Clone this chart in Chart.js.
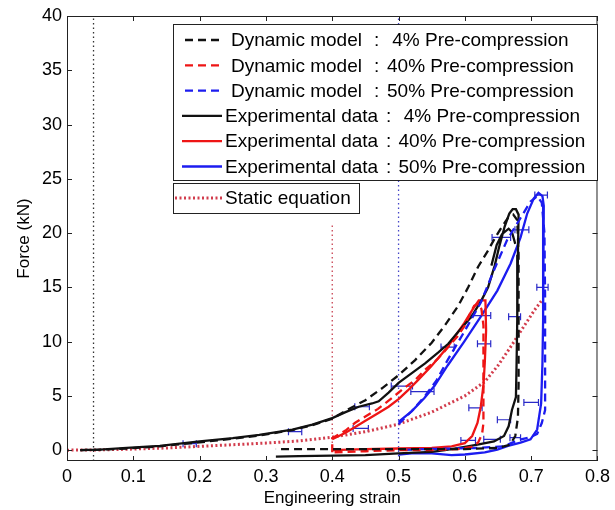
<!DOCTYPE html>
<html>
<head>
<meta charset="utf-8">
<title>Force vs engineering strain</title>
<script src="https://cdn.jsdelivr.net/npm/chart.js@4.4.1/dist/chart.umd.min.js"></script>
<style>
  html, body { margin: 0; padding: 0; background: #fff; }
  #wrap { width: 615px; height: 510px; position: relative; }
</style>
</head>
<body>
<div id="wrap"><canvas id="mainchart"></canvas></div>
<script>
// [strain, force kN] pairs for every curve
const dynBlack4 = [[0.02,0],[0.05,0.05],[0.09,0.15],[0.14,0.35],[0.2,0.72],[0.25,1.05],[0.29,1.35],[0.34,1.85],[0.37,2.3],[0.4,2.9],
  [0.425,3.8],[0.45,4.6],[0.475,5.7],[0.5,6.9],[0.525,8.3],[0.55,9.9],[0.57,11.5],[0.59,13.3],[0.605,15.0],[0.62,16.9],
  [0.635,18.4],[0.645,19.5],[0.655,20.5],[0.665,21.4],[0.673,21.7],[0.679,21.2],[0.681,18],[0.681,12],[0.681,6],[0.68,3],
  [0.676,1.3],[0.668,0.5],[0.65,0.2],[0.6,0.1],[0.5,0.1],[0.4,0.1],[0.315,0.1]]
const dynRed40 = [[0.4,-0.2],[0.4,1.1],[0.42,1.8],[0.434,2.5],[0.45,3.1],[0.469,3.8],[0.49,4.8],[0.51,5.8],[0.524,6.4],[0.54,7.4],
  [0.559,8.4],[0.575,9.5],[0.589,10.5],[0.6,11.5],[0.608,12.6],[0.614,13.3],[0.62,13.5],[0.625,13.0],[0.628,11.5],[0.628,8],
  [0.628,5],[0.628,2.5],[0.626,1.5],[0.62,0.7],[0.61,0.3],[0.59,0.1],[0.55,0],[0.5,0],[0.45,-0.1],[0.4,-0.2]]
const dynBlue50 = [[0.5,2.4],[0.52,3.6],[0.54,5.0],[0.557,6.4],[0.574,8.3],[0.599,10.9],[0.624,13.6],[0.644,16.6],[0.664,19.4],
  [0.684,21.4],[0.699,22.9],[0.709,23.4],[0.716,22.8],[0.72,20],[0.721,14],[0.721,8],[0.721,3.7],[0.716,2.5],[0.709,1.5],
  [0.699,1.2],[0.679,0.9],[0.659,0.35],[0.62,0.2],[0.58,0.15],[0.54,0.1],[0.5,0]]
const expBlack4 = [[0.02,0],[0.05,0.05],[0.09,0.2],[0.14,0.4],[0.2,0.8],[0.25,1.1],[0.29,1.4],[0.34,1.9],[0.37,2.35],[0.4,2.95],
  [0.42,3.5],[0.44,4.0],[0.46,4.3],[0.47,4.5],[0.485,5.3],[0.5,6.2],[0.52,7.1],[0.54,8.0],[0.56,9.0],[0.575,9.8],[0.59,10.9],
  [0.61,12.3],[0.625,13.8],[0.635,15.0],[0.645,17.0],[0.652,18.8],[0.66,20.6],[0.667,21.8],[0.672,22.2],[0.677,22.2],
  [0.681,21.7],[0.68,18],[0.679,12],[0.678,8],[0.677,4.9],[0.671,3.7],[0.666,2.2],[0.659,1.3],[0.644,0.8],[0.619,0.5],
  [0.6,0.3],[0.57,0],[0.55,-0.15],[0.5,-0.3],[0.45,-0.45],[0.4,-0.5],[0.35,-0.55],[0.315,-0.6],
  [null,null],[0.64,17.0],[0.648,18.9],[0.656,19.9],[0.666,20.4],[0.671,20.1],[0.676,19.0]]
const expRed40 = [[0.4,1.0],[0.42,1.6],[0.434,2.1],[0.45,2.7],[0.469,3.4],[0.485,4.0],[0.5,4.7],[0.514,5.5],[0.53,6.5],[0.549,7.7],
  [0.574,9.5],[0.599,11.7],[0.612,13.0],[0.621,13.8],[0.631,13.8],[0.632,11],[0.63,8],[0.628,6],[0.624,4.0],[0.619,2.5],
  [0.611,1.3],[0.6,0.65],[0.58,0.35],[0.55,0.2],[0.5,0.15],[0.45,0.1],[0.4,0]]
const expBlue50 = [[0.5,2.6],[0.52,3.6],[0.539,4.8],[0.554,5.9],[0.574,7.8],[0.599,10.0],[0.624,12.3],[0.649,14.7],[0.669,17.2],
  [0.684,19.6],[0.694,21.8],[0.704,23.2],[0.711,23.7],[0.717,23.4],[0.719,22.5],[0.718,18],[0.718,12],[0.717,8],[0.715,4.3],
  [0.709,1.9],[0.699,1.0],[0.684,0.7],[0.665,0.4],[0.649,0.05],[0.63,-0.2],[0.6,-0.4],[0.58,-0.45],[0.55,-0.3],[0.52,-0.3],[0.5,-0.4]]
const staticEq = [[0,0],[0.05,0.02],[0.1,0.1],[0.15,0.2],[0.2,0.35],[0.25,0.5],[0.3,0.65],[0.35,0.85],[0.4,1.2],[0.45,1.7],
  [0.5,2.4],[0.55,3.5],[0.6,5.0],[0.63,6.3],[0.65,7.8],[0.67,9.6],[0.69,11.5],[0.705,12.9],[0.716,13.8]]

// pre-compression markers: strain and top of the dotted line
const preStrain = [0.04, 0.4, 0.5]
const preTop = [40, 20.7, 40]

// horizontal error bars on the experimental data
const errStrain = [0.715, 0.686, 0.655, 0.717, 0.624, 0.675, 0.629, 0.574, 0.505, 0.536, 0.445, 0.443, 0.616, 0.659, 0.70, 0.605, 0.641, 0.676, 0.344, 0.185]
const errForce  = [23.5, 20.3, 19.6, 15.0, 12.4, 12.3, 9.8, 9.5, 5.9, 5.4, 4.0, 2.0, 3.9, 2.8, 4.4, 0.9, 1.0, 1.15, 1.7, 0.6]
const errHalf   = [0.0095, 0.0105, 0.014, 0.0085, 0.015, 0.009, 0.010, 0.010, 0.016, 0.0175, 0.011, 0.0115, 0.010, 0.010, 0.011, 0.011, 0.0125, 0.008, 0.010, 0.010]

const strainTicks = [0, 0.1, 0.2, 0.3, 0.4, 0.5, 0.6, 0.7, 0.8]
const strainTickLabels = ['0', '0.1', '0.2', '0.3', '0.4', '0.5', '0.6', '0.7', '0.8']
const forceTicks = [0, 5, 10, 15, 20, 25, 30, 35, 40]

const legendNames = ['Dynamic model', 'Dynamic model', 'Dynamic model', 'Experimental data', 'Experimental data', 'Experimental data']
const legendCases = [' 4% Pre-compression', '40% Pre-compression', '50% Pre-compression', ' 4% Pre-compression', '40% Pre-compression', '50% Pre-compression']
const staticLabel = 'Static equation'

const BLACK = '#111111', RED = '#ee1515', BLUE = '#1c1cf0'
const FONT = '"Liberation Sans", Arial, sans-serif'

const pts = arr => arr.map(p => ({ x: p[0], y: p[1] }))

function curve(data, color, dash) {
    return { data: pts(data), borderColor: color, borderWidth: 2.3, borderDash: dash, showLine: true, pointRadius: 0, spanGaps: false }
}

const errData = []
errStrain.forEach((s, i) => {
    errData.push({ x: s - errHalf[i], y: errForce[i] }, { x: s + errHalf[i], y: errForce[i] }, { x: null, y: null })
})

const datasets = [
    curve(dynBlack4, BLACK, [8, 5]),
    curve(dynRed40, RED, [8, 5]),
    curve(dynBlue50, BLUE, [8, 5]),
    curve(expBlack4, BLACK, []),
    curve(expRed40, RED, []),
    curve(expBlue50, BLUE, []),
    { data: pts(staticEq), borderColor: '#d23c4c', borderWidth: 3, borderDash: [2, 2.5], showLine: true, pointRadius: 0 },
    { data: errData, borderColor: '#2a2ac8', borderWidth: 1.2, showLine: true, spanGaps: false,
      pointStyle: 'line', rotation: 90, pointRadius: 3.5, pointBorderColor: '#2a2ac8', pointBorderWidth: 1.2 }
]
const preColors = ['#333333', '#c84050', '#4646c8']
preStrain.forEach((s, i) => {
    datasets.push({ data: [{ x: s, y: -1 }, { x: s, y: preTop[i] }], borderColor: preColors[i], borderWidth: 1.3,
        borderDash: [1.5, 3], showLine: true, pointRadius: 0 })
})

// MATLAB-like box with inward ticks on all four sides
const framePlugin = {
    id: 'frame',
    afterDatasetsDraw(chart) {
        const { ctx, chartArea: a, scales: { x, y } } = chart
        ctx.save()
        ctx.strokeStyle = '#222'
        ctx.lineWidth = 1
        ctx.strokeRect(a.left + 0.5, a.top + 0.5, a.width - 1, a.height - 1)
        ctx.beginPath()
        x.ticks.forEach(t => {
            const px = Math.round(x.getPixelForValue(t.value)) + 0.5
            ctx.moveTo(px, a.bottom); ctx.lineTo(px, a.bottom - 5)
            ctx.moveTo(px, a.top); ctx.lineTo(px, a.top + 5)
        })
        y.ticks.forEach(t => {
            const py = Math.round(y.getPixelForValue(t.value)) + 0.5
            ctx.moveTo(a.left, py); ctx.lineTo(a.left + 5, py)
            ctx.moveTo(a.right, py); ctx.lineTo(a.right - 5, py)
        })
        ctx.stroke()
        ctx.restore()
    }
}

// two boxed legends inside the axes
const boxLegend = {
    id: 'boxLegend',
    afterDraw(chart, args, opts) {
        const ctx = chart.ctx
        ctx.save()
        opts.boxes.forEach(box => {
            ctx.fillStyle = '#fff'
            ctx.fillRect(box.x, box.y, box.w, box.h)
            ctx.strokeStyle = '#222'
            ctx.lineWidth = 1
            ctx.strokeRect(box.x + 0.5, box.y + 0.5, box.w, box.h)
            box.rows.forEach((row, i) => {
                const ds = chart.data.datasets[row.dataset]
                const cy = box.y + box.first + i * box.gap
                ctx.strokeStyle = ds.borderColor
                ctx.lineWidth = ds.borderWidth
                ctx.setLineDash(ds.borderDash || [])
                ctx.beginPath()
                ctx.moveTo(row.from, cy)
                ctx.lineTo(222, cy)
                ctx.stroke()
                ctx.setLineDash([])
                ctx.fillStyle = '#000'
                ctx.font = '19px ' + FONT
                ctx.textBaseline = 'middle'
                row.parts.forEach(p => ctx.fillText(p[0], p[1], cy + 1))
            })
        })
        ctx.restore()
    }
}

const legendRows = legendNames.map((name, i) => {
    const dyn = i < 3
    return {
        dataset: i,
        from: dyn ? 185 : 182,
        parts: dyn ? [[name, 231], [':', 374], [legendCases[i], 387]]
                   : [[name, 225], [':', 386], [legendCases[i], 398.5]]
    }
})

const ctx = document.getElementById('mainchart').getContext('2d')
const mainchart = new Chart(ctx, {
    type: 'scatter',
    data: { datasets: datasets },
    plugins: [framePlugin, boxLegend],
    options: {
        responsive: true,
        maintainAspectRatio: false,
        animation: false,
        layout: { padding: { top: 16, right: 14, left: 0, bottom: 0 } },
        plugins: {
            legend: { display: false },
            tooltip: { enabled: false },
            boxLegend: {
                boxes: [
                    { x: 173, y: 24, w: 424, h: 156, first: 16, gap: 25.3, rows: legendRows },
                    { x: 173, y: 183, w: 186, h: 30, first: 15, gap: 0,
                      rows: [{ dataset: 6, from: 175, parts: [[staticLabel, 225]] }] }
                ]
            }
        },
        scales: {
            x: {
                type: 'linear', min: 0, max: 0.8,
                afterBuildTicks: s => { s.ticks = strainTicks.map(v => ({ value: v })) },
                afterFit: s => { s.height = 49 },
                grid: { display: false, drawTicks: false },
                border: { display: false },
                ticks: { color: '#000', padding: 5, maxRotation: 0, font: { family: FONT, size: 18 },
                         callback: (v, i) => strainTickLabels[i] },
                title: { display: true, text: 'Engineering strain', color: '#000', padding: { top: 0, bottom: 1 },
                         font: { family: FONT, size: 17 } }
            },
            y: {
                type: 'linear', min: -1, max: 40,
                afterBuildTicks: s => { s.ticks = forceTicks.map(v => ({ value: v })) },
                afterFit: s => { s.width = 67 },
                grid: { display: false, drawTicks: false },
                border: { display: false },
                ticks: { color: '#000', padding: 5, font: { family: FONT, size: 18 } },
                title: { display: true, text: 'Force (kN)', color: '#000', padding: { top: 14, bottom: 0 },
                         font: { family: FONT, size: 17 } }
            }
        }
    }
})
</script>
</body>
</html>
